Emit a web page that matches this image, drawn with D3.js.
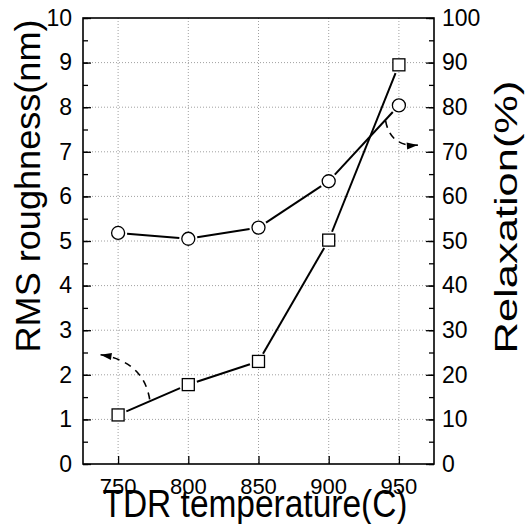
<!DOCTYPE html>
<html>
<head>
<meta charset="utf-8">
<script src="https://cdn.jsdelivr.net/npm/d3@7"></script>
<style>
  body { margin: 0; background: #fff; }
  text { font-family: "Liberation Sans", Arial, sans-serif; fill: #000; }
  .grid line { stroke: #a0a0a0; stroke-dasharray: 1,2; stroke-width: 1; }
</style>
</head>
<body>
<svg id="plot" width="526" height="524"></svg>
<script>
// TDR temperature (C)
var temps = [750, 800, 850, 900, 950];
// RMS roughness (nm), left axis, squares
var roughness = [1.1, 1.78, 2.3, 5.02, 8.95];
// Relaxation (%), right axis, circles
var relaxation = [51.8, 50.5, 53.0, 63.4, 80.4];

var xTicks = [750, 800, 850, 900, 950];
var yLeftTicks = [0, 1, 2, 3, 4, 5, 6, 7, 8, 9, 10];
var yRightTicks = [0, 10, 20, 30, 40, 50, 60, 70, 80, 90, 100];

var svg = d3.select("#plot"),
  pLeft = 83, pRight = 434, pTop = 18, pBottom = 464;

var x = d3.scaleLinear().domain([725, 975]).range([pLeft, pRight]);
var yL = d3.scaleLinear().domain([0, 10]).range([pBottom, pTop]);
var yR = d3.scaleLinear().domain([0, 100]).range([pBottom, pTop]);

// gridlines
var grid = svg.append("g").attr("class", "grid");
grid.selectAll(".gx").data(xTicks).enter().append("line")
  .attr("x1", function (d) { return x(d); })
  .attr("x2", function (d) { return x(d); })
  .attr("y1", pTop).attr("y2", pBottom);
grid.selectAll(".gy").data(yLeftTicks.slice(1, -1)).enter().append("line")
  .attr("x1", pLeft).attr("x2", pRight)
  .attr("y1", function (d) { return yL(d); })
  .attr("y2", function (d) { return yL(d); });

// axes (ticks point inward)
var minorL = d3.range(0, 10.01, 0.5);
var minorR = d3.range(0, 100.1, 5);

svg.append("g")
  .attr("transform", "translate(" + pLeft + ",0)")
  .call(d3.axisRight(yL).tickValues(minorL).tickSize(5).tickFormat(""))
  .call(function (g) { g.select(".domain").remove(); });
svg.append("g")
  .attr("transform", "translate(" + pLeft + ",0)")
  .call(d3.axisLeft(yL).tickValues(yLeftTicks).tickSize(-8).tickPadding(11))
  .call(function (g) {
    g.select(".domain").remove();
    g.selectAll("text").style("font-size", "23px");
  });

svg.append("g")
  .attr("transform", "translate(" + pRight + ",0)")
  .call(d3.axisLeft(yR).tickValues(minorR).tickSize(5).tickFormat(""))
  .call(function (g) { g.select(".domain").remove(); });
svg.append("g")
  .attr("transform", "translate(" + pRight + ",0)")
  .call(d3.axisRight(yR).tickValues(yRightTicks).tickSize(-8).tickPadding(8))
  .call(function (g) {
    g.select(".domain").remove();
    g.selectAll("text").style("font-size", "23px");
  });

svg.append("g")
  .attr("transform", "translate(0," + pBottom + ")")
  .call(d3.axisTop(x).tickValues(xTicks).tickSize(8).tickFormat(""))
  .call(function (g) { g.select(".domain").remove(); });
svg.append("g")
  .selectAll("text").data(xTicks).enter().append("text")
  .attr("x", function (d) { return x(d); })
  .attr("y", 494)
  .attr("text-anchor", "middle")
  .style("font-size", "22px")
  .text(function (d) { return d; });

svg.selectAll(".tick line").attr("stroke", "#000").attr("stroke-width", 1.3);

// frame
svg.append("rect")
  .attr("x", pLeft).attr("y", pTop)
  .attr("width", pRight - pLeft).attr("height", pBottom - pTop)
  .attr("fill", "none").attr("stroke", "#000").attr("stroke-width", 1.6);

// series lines with a small gap at each marker
function gapLines(g, pts, gap) {
  for (var i = 0; i < pts.length - 1; i++) {
    var a = pts[i], b = pts[i + 1];
    var dx = b[0] - a[0], dy = b[1] - a[1], L = Math.sqrt(dx * dx + dy * dy);
    var ux = dx / L, uy = dy / L;
    g.append("line")
      .attr("x1", a[0] + ux * gap).attr("y1", a[1] + uy * gap)
      .attr("x2", b[0] - ux * gap).attr("y2", b[1] - uy * gap)
      .attr("stroke", "#000").attr("stroke-width", 2);
  }
}

var sqPts = temps.map(function (t, i) { return [x(t), yL(roughness[i])]; });
var ciPts = temps.map(function (t, i) { return [x(t), yR(relaxation[i])]; });

var lines = svg.append("g");
gapLines(lines, sqPts, 9);
gapLines(lines, ciPts, 9);

svg.append("g").selectAll("rect").data(sqPts).enter().append("rect")
  .attr("x", function (d) { return d[0] - 6; })
  .attr("y", function (d) { return d[1] - 6; })
  .attr("width", 12).attr("height", 12)
  .attr("fill", "#fff").attr("stroke", "#000").attr("stroke-width", 1.3);

svg.append("g").selectAll("circle").data(ciPts).enter().append("circle")
  .attr("cx", function (d) { return d[0]; })
  .attr("cy", function (d) { return d[1]; })
  .attr("r", 6.5)
  .attr("fill", "#fff").attr("stroke", "#000").attr("stroke-width", 1.3);

// dashed arrows pointing at each series' axis
function arrow(p0, c, p1) {
  var a = [x(p0[0]), yL(p0[1])], cc = [x(c[0]), yL(c[1])], b = [x(p1[0]), yL(p1[1])];
  var path = d3.path();
  path.moveTo(a[0], a[1]);
  path.quadraticCurveTo(cc[0], cc[1], b[0], b[1]);
  svg.append("path").attr("d", path.toString())
    .attr("fill", "none").attr("stroke", "#000").attr("stroke-width", 1.6)
    .attr("stroke-dasharray", "7,6");
  var ang = Math.atan2(b[1] - cc[1], b[0] - cc[0]);
  var len = 11, w = 3.5;
  var bx = b[0] - Math.cos(ang) * len, by = b[1] - Math.sin(ang) * len;
  var px = -Math.sin(ang) * w, py = Math.cos(ang) * w;
  svg.append("path")
    .attr("d", "M" + b[0] + "," + b[1] + "L" + (bx + px) + "," + (by + py) + "L" + (bx - px) + "," + (by - py) + "Z")
    .attr("fill", "#000");
}
arrow([772.5, 1.45], [768, 2.3], [737.5, 2.45]);
arrow([940.5, 7.7], [944, 7.1], [963.5, 7.15]);

// axis titles
svg.append("text")
  .attr("transform", "translate(40,186) rotate(-90)")
  .attr("text-anchor", "middle")
  .attr("textLength", 333).attr("lengthAdjust", "spacingAndGlyphs")
  .style("font-size", "35px")
  .text("RMS roughness(nm)");

svg.append("text")
  .attr("transform", "translate(517,217) rotate(-90)")
  .attr("text-anchor", "middle")
  .attr("textLength", 273).attr("lengthAdjust", "spacingAndGlyphs")
  .style("font-size", "32px")
  .text("Relaxation(%)");

svg.append("text")
  .attr("x", 255).attr("y", 517)
  .attr("text-anchor", "middle")
  .attr("textLength", 305).attr("lengthAdjust", "spacingAndGlyphs")
  .style("font-size", "38px")
  .text("TDR temperature(C)");
</script>
</body>
</html>
